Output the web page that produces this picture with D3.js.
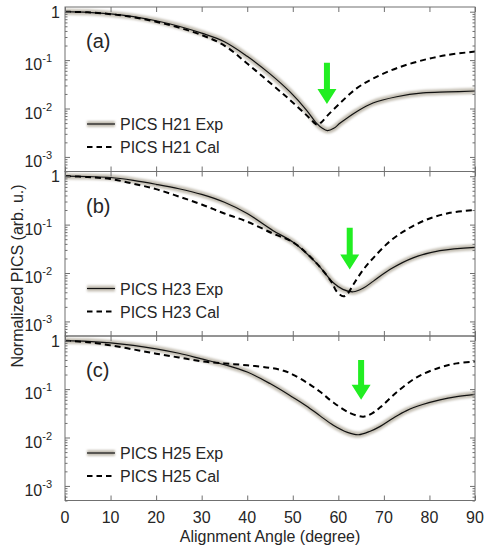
<!DOCTYPE html>
<html>
<head>
<meta charset="utf-8">
<script src="https://cdn.jsdelivr.net/npm/d3@7/dist/d3.min.js"></script>
<style>
  body { margin: 0; background: #fff; }
  text { font-family: "Liberation Sans", Arial, sans-serif; fill: #262626; }
</style>
</head>
<body>
<script>
// panel names and legend labels
var panelTags = ["(a)", "(b)", "(c)"];
var expNames = ["PICS H21 Exp", "PICS H23 Exp", "PICS H25 Exp"];
var calNames = ["PICS H21 Cal", "PICS H23 Cal", "PICS H25 Cal"];

// [angle (deg), normalized PICS]
var h21Exp = [[0,1],[5,0.97],[10,0.9],[15,0.79],[20,0.65],[25,0.5],[30,0.36],[35,0.24],[40,0.12],[45,0.052],
  [49.4,0.022],[53,0.0093],[55.2,0.005],[56.5,0.0039],[57.6,0.0035],[59,0.0039],[60.4,0.005],[64,0.0086],
  [67.6,0.013],[72.8,0.0175],[78.6,0.021],[84,0.022],[90,0.023]];
var h21Cal = [[0,1],[5,0.97],[10,0.89],[15,0.77],[20,0.62],[25,0.47],[30,0.33],[35,0.2],[40,0.085],[45,0.034],
  [49.4,0.015],[53,0.0073],[54.5,0.0053],[55.4,0.0046],[56.3,0.0052],[57.4,0.0068],[60.4,0.013],[64,0.026],
  [67.7,0.042],[72.8,0.068],[78.6,0.1],[84,0.128],[90,0.15]];
var h23Exp = [[0,1],[5,0.98],[10,0.94],[15,0.82],[20,0.68],[25,0.55],[30,0.42],[35,0.29],[40,0.17],[45.7,0.075],
  [50.1,0.043],[55.2,0.016],[58.9,0.0063],[61,0.0046],[63.3,0.0041],[65.5,0.0049],[67.7,0.0068],[71.3,0.0118],
  [76.4,0.0206],[82.3,0.029],[90,0.034]];
var h23Cal = [[0,1],[5,0.96],[10,0.875],[15,0.7],[20,0.54],[25,0.38],[30,0.26],[35,0.17],[40,0.115],[45.7,0.065],
  [50.1,0.043],[55.2,0.016],[58.5,0.0065],[59.6,0.0042],[61.1,0.0033],[62,0.0037],[63.3,0.0058],[65.5,0.0118],
  [67.7,0.0206],[71.3,0.045],[75,0.079],[79.4,0.127],[84.5,0.175],[90,0.2]];
var h25Exp = [[0,1],[5,0.97],[10,0.9],[15,0.8],[20,0.68],[25,0.55],[30,0.42],[35,0.32],[40,0.225],[45,0.13],
  [50,0.068],[53,0.045],[56,0.028],[58.9,0.018],[62,0.0128],[64.4,0.0114],[67,0.0135],[69.2,0.017],[72,0.025],
  [75,0.036],[78.5,0.048],[82.3,0.06],[86,0.07],[90,0.078]];
var h25Cal = [[0,1],[5,0.93],[10,0.8],[15,0.66],[20,0.54],[25,0.45],[30,0.375],[35,0.34],[40,0.31],[45,0.275],
  [48,0.24],[50,0.2],[53,0.138],[56,0.088],[58.9,0.053],[62.6,0.032],[65.5,0.027],[67.5,0.032],[69.2,0.042],
  [72.8,0.086],[77.2,0.175],[82.3,0.28],[86,0.34],[90,0.37]];

var expSeries = [h21Exp, h23Exp, h25Exp];
var calSeries = [h21Cal, h23Cal, h25Cal];

// green arrows: angle, tail value, tip value
var arrowAngle = [57.5, 62.5, 65];
var arrowTail = [0.088, 0.086, 0.4];
var arrowTip = [0.0124, 0.0118, 0.06];

var xTicks = [0, 10, 20, 30, 40, 50, 60, 70, 80, 90];
var yTicks = [1, 0.1, 0.01, 0.001];
var yTickExp = ["", "-1", "-2", "-3"];

function draw_panels() {
    var width = 484, height = 550;
    var left = 65, right = 475, top0 = 7, panelH = 164.5;
    var axisCol = "#707070",
        haloCol = "#c4bfb4";

    var svg = d3.select("body").append("svg")
        .attr("width", width)
        .attr("height", height);

    var defs = svg.append("defs");
    defs.append("filter").attr("id", "soft")
        .attr("filterUnits", "userSpaceOnUse")
        .attr("x", 0).attr("y", 0).attr("width", width).attr("height", height)
      .append("feGaussianBlur").attr("stdDeviation", 0.8);

    var x = d3.scaleLinear().domain([0, 90]).range([left, right]);

    // minor log ticks
    var minors = [];
    for (var e = -4; e <= 0; ++e) {
        for (var k = 2; k <= 9; ++k) {
            var v = k * Math.pow(10, e);
            if (v >= 5e-4 && v <= 1.25) minors.push(v);
        }
    }

    for (var p = 0; p < 3; ++p) {
        var pTop = top0 + p * panelH;
        var y = d3.scaleLog().domain([5e-4, 1.25]).range([pTop + panelH, pTop]);
        var g = svg.append("g");

        defs.append("clipPath").attr("id", "clip" + p)
          .append("rect")
            .attr("x", left).attr("y", pTop)
            .attr("width", right - left).attr("height", panelH);

        var line = d3.line()
            .x(function (d) { return x(d[0]); })
            .y(function (d) { return y(d[1]); })
            .curve(d3.curveCatmullRom.alpha(0.5));

        var plot = g.append("g").attr("clip-path", "url(#clip" + p + ")");

        // experimental curve: gray halo + thin black line
        plot.append("path")
            .attr("d", line(expSeries[p]))
            .attr("fill", "none")
            .attr("stroke", haloCol)
            .attr("stroke-width", 6)
            .attr("filter", "url(#soft)");
        plot.append("path")
            .attr("d", line(expSeries[p]))
            .attr("fill", "none")
            .attr("stroke", "#111")
            .attr("stroke-width", 1.2);

        // calculated curve
        plot.append("path")
            .attr("d", line(calSeries[p]))
            .attr("fill", "none")
            .attr("stroke", "#000")
            .attr("stroke-width", 2)
            .attr("stroke-dasharray", "6,4");

        // arrow
        var ax = x(arrowAngle[p]),
            yTail = y(arrowTail[p]),
            yTip = y(arrowTip[p]),
            headLen = 15, headW = 9.5, shaftW = 3;
        g.append("path")
            .attr("d", "M" + (ax - shaftW) + "," + yTail +
                       "L" + (ax + shaftW) + "," + yTail +
                       "L" + (ax + shaftW) + "," + (yTip - headLen) +
                       "L" + (ax + headW) + "," + (yTip - headLen) +
                       "L" + ax + "," + yTip +
                       "L" + (ax - headW) + "," + (yTip - headLen) +
                       "L" + (ax - shaftW) + "," + (yTip - headLen) + "Z")
            .attr("fill", "#22ee22");

        // frame
        g.append("rect")
            .attr("x", left).attr("y", pTop)
            .attr("width", right - left).attr("height", panelH)
            .attr("fill", "none")
            .attr("stroke", axisCol)
            .attr("stroke-width", 1);

        // ticks (inward)
        var axes = [
            [d3.axisBottom(x).tickValues(xTicks).tickSize(-5), "translate(0," + (pTop + panelH) + ")"],
            [d3.axisTop(x).tickValues(xTicks).tickSize(-5), "translate(0," + pTop + ")"],
            [d3.axisLeft(y).tickValues(yTicks).tickSize(-5), "translate(" + left + ",0)"],
            [d3.axisRight(y).tickValues(yTicks).tickSize(-5), "translate(" + right + ",0)"],
            [d3.axisLeft(y).tickValues(minors).tickSize(-2.5), "translate(" + left + ",0)"],
            [d3.axisRight(y).tickValues(minors).tickSize(-2.5), "translate(" + right + ",0)"]
        ];
        axes.forEach(function (a) {
            var ag = g.append("g").attr("transform", a[1]).call(a[0].tickFormat(""));
            ag.select(".domain").remove();
            ag.selectAll("line").attr("stroke", axisCol);
        });

        // y tick labels
        yTicks.forEach(function (t, i) {
            var ty = y(t);
            if (i === 0) {
                g.append("text")
                    .attr("x", 60).attr("y", ty + 6)
                    .attr("text-anchor", "end")
                    .attr("font-size", "16px")
                    .text("1");
            } else {
                var lab = g.append("text")
                    .attr("x", 52).attr("y", ty + 10)
                    .attr("text-anchor", "end")
                    .attr("font-size", "16px");
                lab.append("tspan").text("10");
                lab.append("tspan")
                    .attr("dy", -8)
                    .attr("font-size", "11px")
                    .text(yTickExp[i]);
            }
        });

        // panel tag
        g.append("text")
            .attr("x", 86).attr("y", pTop + 41)
            .attr("font-size", "20px")
            .text(panelTags[p]);

        // legend
        var l1 = pTop + 117, l2 = pTop + 140;
        g.append("line")
            .attr("x1", 87).attr("x2", 115).attr("y1", l1).attr("y2", l1)
            .attr("stroke", haloCol).attr("stroke-width", 6)
            .attr("filter", "url(#soft)");
        g.append("line")
            .attr("x1", 87).attr("x2", 115).attr("y1", l1).attr("y2", l1)
            .attr("stroke", "#111").attr("stroke-width", 1.2);
        g.append("text")
            .attr("x", 120).attr("y", l1 + 6)
            .attr("font-size", "16px")
            .text(expNames[p]);
        g.append("line")
            .attr("x1", 87).attr("x2", 115).attr("y1", l2).attr("y2", l2)
            .attr("stroke", "#000").attr("stroke-width", 2)
            .attr("stroke-dasharray", "5.5,4");
        g.append("text")
            .attr("x", 120).attr("y", l2 + 6)
            .attr("font-size", "16px")
            .text(calNames[p]);
    }

    // x tick labels on the bottom panel
    var bottom = top0 + 3 * panelH;
    xTicks.forEach(function (t) {
        svg.append("text")
            .attr("x", x(t)).attr("y", bottom + 22)
            .attr("text-anchor", "middle")
            .attr("font-size", "16px")
            .text(t);
    });

    svg.append("text")
        .attr("x", (left + right) / 2).attr("y", 542)
        .attr("text-anchor", "middle")
        .attr("font-size", "16px")
        .text("Alignment Angle (degree)");

    svg.append("text")
        .attr("transform", "translate(23,276) rotate(-90)")
        .attr("text-anchor", "middle")
        .attr("font-size", "16px")
        .text("Normalized PICS (arb. u.)");
}

draw_panels();
</script>
</body>
</html>
